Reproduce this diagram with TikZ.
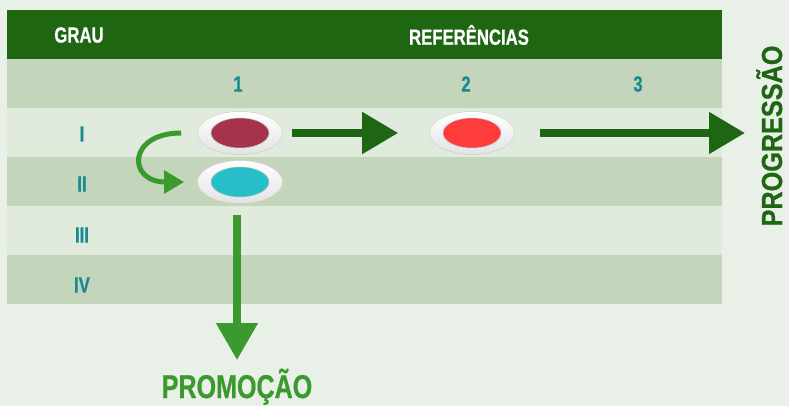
\documentclass[tikz,border=0pt]{standalone}
\usepackage{fontspec}
\setmainfont{Liberation Sans}
\newfontfamily\narrowfont[FakeStretch=0.76, FakeBold=0.6]{Liberation Sans}
\newfontfamily\wideword[FakeStretch=0.87, FakeBold=0.6]{Liberation Sans}
\usetikzlibrary{arrows.meta,positioning,shapes.geometric}
\definecolor{bgpale}{RGB}{233,240,231}
\definecolor{headgreen}{RGB}{30,102,18}
\definecolor{rowdark}{RGB}{195,214,188}
\definecolor{rowlight}{RGB}{224,235,221}
\definecolor{tealtext}{RGB}{26,138,143}
\definecolor{leafgreen}{RGB}{58,154,46}
\definecolor{wine}{RGB}{165,52,74}
\definecolor{brightred}{RGB}{255,59,59}
\definecolor{cyandot}{RGB}{38,191,200}

\begin{document}
\begin{tikzpicture}[x=1pt,y=-1pt,
		headtext/.style={font=\narrowfont\bfseries\fontsize{22}{22}\selectfont, text=white},
		grade/.style={font=\narrowfont\bfseries\fontsize{22}{22}\selectfont, text=tealtext},
		plate/.style={ellipse, minimum width=85pt, minimum height=43pt, inner sep=0pt, draw=gray!35, line width=0.6pt, top color=white, bottom color=gray!22},
		dot/.style={ellipse, minimum width=58pt, minimum height=30pt, inner sep=0pt, draw=black!25, line width=0.5pt},
		bigarrow/.style={draw=headgreen, line width=8pt, -{Triangle[length=36pt, width=40pt]}},
		downarrow/.style={draw=leafgreen, line width=8pt, -{Triangle[length=37pt, width=40pt]}},
		curvearrow/.style={draw=leafgreen, line width=5pt, -{Triangle[length=20pt, width=22pt]}},
		bigword/.style={font=\narrowfont\bfseries\fontsize{#1}{#1}\selectfont}]
		\useasboundingbox (0,0) rectangle (789,406);
		\fill[bgpale] (0,0) rectangle (789,406);
		\fill[headgreen] (7,10) rectangle (722,59);
		\foreach \top/\col in {59/rowdark, 108/rowlight, 157/rowdark, 206/rowlight, 255/rowdark}
			\fill[\col] (7,\top) rectangle (722,\top+49);
		\node[headtext] (grau) at (79,35) {GRAU};
		\node[headtext] (refs) at (469,35) {REFERÊNCIAS};
		\node[grade] (r1) at (238,84) {1};
		\node[grade] (r2) at (466,84) {2};
		\node[grade] (r3) at (638,84) {3};
		\node[grade] (g1) at (82,134) {I};
		\node[grade] (g2) at (82,184) {II};
		\node[grade] (g3) at (82,235) {III};
		\node[grade] (g4) at (82,285) {IV};
		\node[plate] (p1) at (240,133) {};
		\node[dot, fill=wine] (d1) at (p1) {};
		\node[plate] (p2) at (472,133) {};
		\node[dot, fill=brightred] (d2) at (p2) {};
		\node[plate] (p3) at (240,182) {};
		\node[dot, fill=cyandot] (d3) at (p3) {};
		\coordinate (prog) at (745,133);
		\coordinate (promo) at (237,360);
		\draw[bigarrow, shorten <=9pt, shorten >=31pt] (p1) -- (p2);
		\draw[bigarrow, shorten <=25pt] (p2.east) -- (prog);
		\draw[downarrow, shorten <=11pt] (p3.south -| promo) -- (promo);
		\draw[curvearrow, shorten <=16pt, shorten >=13pt] (p1.west) .. controls +(-70,0) and +(-70,0) .. (p3.west);
		\node[bigword=33, text=leafgreen, anchor=base] (promotext) at (237,398) {PROMOÇÃO};
		\node[font=\wideword\bfseries\fontsize{29}{29}\selectfont, text=headgreen, rotate=90, anchor=base] (progtext) at (782,136) {PROGRESSÃO};
	\end{tikzpicture}
\end{document}
